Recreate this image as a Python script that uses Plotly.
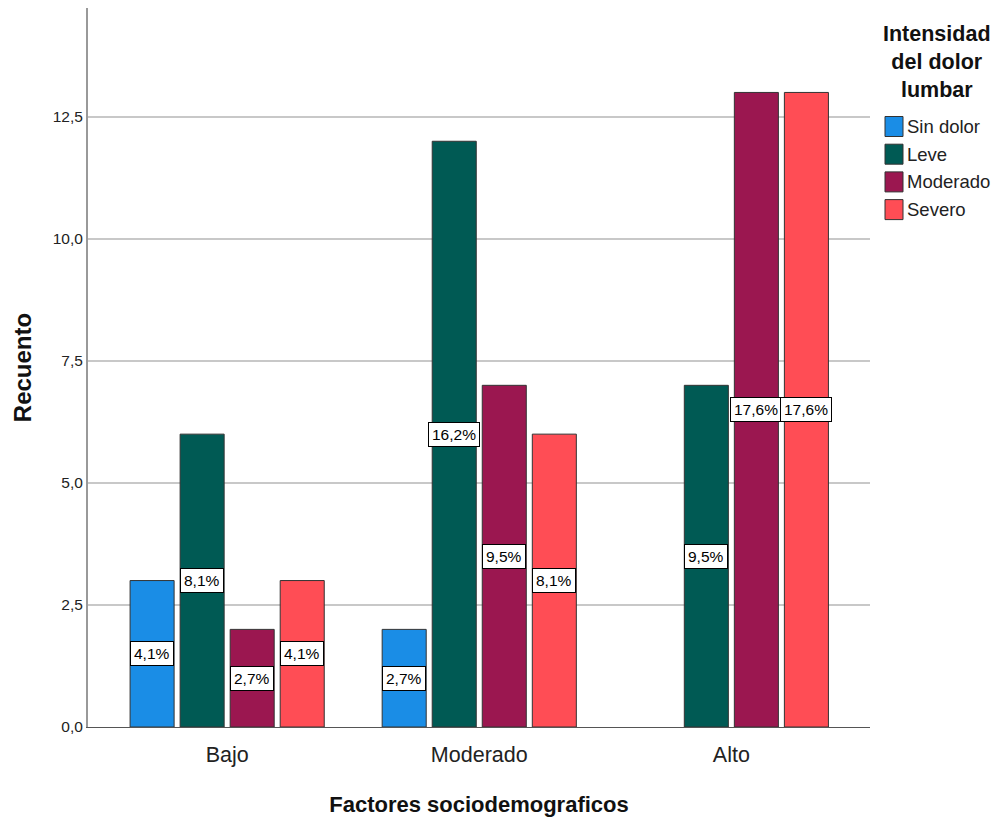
import plotly.graph_objects as go

categories = ["Bajo", "Moderado", "Alto"]
series_names = ["Sin dolor", "Leve", "Moderado", "Severo"]
sin_dolor = [3, 2, None]
leve = [6, 12, 7]
moderado = [2, 7, 13]
severo = [3, 6, 13]
pct_sin_dolor = ["4,1%", "2,7%", None]
pct_leve = ["8,1%", "16,2%", "9,5%"]
pct_moderado = ["2,7%", "9,5%", "17,6%"]
pct_severo = ["4,1%", "8,1%", "17,6%"]
y_ticks = [0, 2.5, 5, 7.5, 10, 12.5]
y_tick_labels = ["0,0", "2,5", "5,0", "7,5", "10,0", "12,5"]
legend_title = "Intensidad<br>del dolor<br>lumbar"

colors = ["#1A8DE6", "#005A54", "#9B1750", "#FF4D55"]
values = [sin_dolor, leve, moderado, severo]
pcts = [pct_sin_dolor, pct_leve, pct_moderado, pct_severo]

FONT = "Liberation Sans, Arial, sans-serif"

W, H = 996, 826
ML, MR, MT, MB = 88, 126, 8, 99
PW, PH = W - ML - MR, H - MT - MB


def px_x(px):
    return (px - ML) / PW


def px_y(py):
    return (H - MB - py) / PH


fig = go.Figure()
x_idx = list(range(len(categories)))
for name, vals, col in zip(series_names, values, colors):
    fig.add_trace(go.Bar(
        x=x_idx, y=vals, name=name, showlegend=False,
        marker=dict(color=col, line=dict(color="#333333", width=1)),
    ))

n = len(series_names)
bargap = 0.206
group_w = 1 - bargap
slot = group_w / n
for si, (vals, labs) in enumerate(zip(values, pcts)):
    for ci, (v, lab) in enumerate(zip(vals, labs)):
        if v is None or lab is None:
            continue
        xpos = ci - group_w / 2 + slot * (si + 0.5)
        fig.add_annotation(
            x=xpos, y=v / 2, text=lab, showarrow=False,
            xref="x", yref="y",
            font=dict(family=FONT, size=15.5, color="#000000"),
            bgcolor="#FFFFFF", bordercolor="#000000", borderwidth=1, borderpad=3,
        )

# manual legend
fig.add_annotation(
    xref="paper", yref="paper", x=px_x(937), y=px_y(20),
    xanchor="center", yanchor="top", showarrow=False,
    text="<b>" + legend_title + "</b>", align="center",
    font=dict(family=FONT, size=21.5, color="#111111"),
)
for i, (name, col) in enumerate(zip(series_names, colors)):
    cy = 126.5 + 27.7 * i
    fig.add_shape(
        type="rect", xref="paper", yref="paper",
        x0=px_x(885), x1=px_x(903), y0=px_y(cy - 10), y1=px_y(cy + 10),
        fillcolor=col, line=dict(color="#333333", width=1),
    )
    fig.add_annotation(
        xref="paper", yref="paper", x=px_x(905), y=px_y(cy),
        xanchor="left", yanchor="middle", showarrow=False, text=name,
        font=dict(family=FONT, size=18.5, color="#222222"),
    )

fig.update_layout(
    width=W, height=H,
    margin=dict(l=ML, r=MR, t=MT, b=MB),
    paper_bgcolor="#FFFFFF", plot_bgcolor="#FFFFFF",
    barmode="group", bargap=bargap, bargroupgap=0.12,
    font=dict(family=FONT, color="#222222"),
    showlegend=False,
    xaxis=dict(
        tickmode="array", tickvals=x_idx, ticktext=categories,
        range=[-0.552, 2.55],
        showline=True, linecolor="#555555", linewidth=1,
        showgrid=False, zeroline=False, ticks="",
        ticklabelstandoff=8,
        tickfont=dict(family=FONT, size=21.5, color="#222222"),
        title=dict(text="<b>Factores sociodemograficos</b>",
                   font=dict(family=FONT, size=22, color="#111111"), standoff=30),
    ),
    yaxis=dict(
        range=[0, 14.73],
        tickmode="array", tickvals=y_ticks, ticktext=y_tick_labels,
        showline=True, linecolor="#999999", linewidth=2,
        showgrid=True, gridcolor="#C8C8C8", gridwidth=1.5,
        zeroline=False, ticks="",
        tickfont=dict(family=FONT, size=15.5, color="#222222"),
        title=dict(text="<b>Recuento</b>",
                   font=dict(family=FONT, size=24, color="#111111"), standoff=14),
    ),
)

fig.write_html("out.html")
